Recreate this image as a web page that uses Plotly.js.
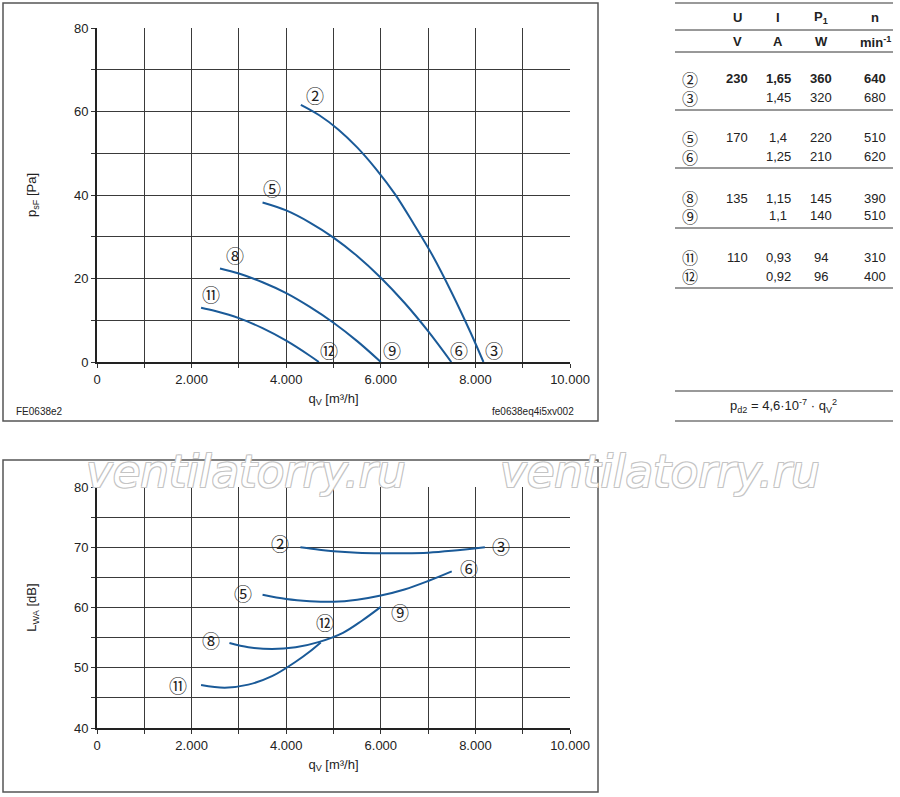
<!DOCTYPE html>
<html><head><meta charset="utf-8">
<script src="https://cdn.plot.ly/plotly-3.0.1.min.js"></script>
<style>html,body{margin:0;padding:0;background:#fff}</style>
</head><body><div id="chart" style="width:900px;height:797px"></div>
<script>
// ---- Pressure curves (top chart) ----
const pq23 = [4310, 4700, 5100, 5500, 5900, 6300, 6700, 7100, 7500, 7900, 8170];
const pp23 = [61.6, 59.1, 55.7, 51.4, 46.2, 40.2, 33.0, 25.4, 16.6, 7.0, 0];
const pq56 = [3500, 4000, 4500, 5000, 5500, 6000, 6500, 7000, 7490];
const pp56 = [38.2, 36.3, 33.4, 29.8, 25.4, 20.2, 14.2, 7.4, 0];
const pq89 = [2600, 3000, 3500, 4000, 4500, 5000, 5500, 6000];
const pp89 = [22.4, 21.2, 19.1, 16.5, 13.2, 9.4, 5.0, 0];
const pq1112 = [2200, 2500, 3000, 3500, 4000, 4500, 4690];
const pp1112 = [13.0, 12.2, 10.5, 8.1, 5.1, 1.5, 0];

// ---- Sound power curves (bottom chart) ----
const lq23 = [4300, 4700, 5000, 5500, 6000, 6500, 7000, 7500, 8200];
const ll23 = [70.0, 69.6, 69.35, 69.1, 69.0, 69.0, 69.1, 69.4, 70.0];
const lq56 = [3500, 4000, 4500, 5000, 5500, 6000, 6500, 7000, 7500];
const ll56 = [62.1, 61.4, 61.05, 60.95, 61.3, 62.0, 63.0, 64.4, 66.0];
const lq89 = [2800, 3200, 3700, 4200, 4700, 5200, 5600, 6000];
const ll89 = [54.1, 53.4, 53.1, 53.4, 54.3, 55.8, 57.8, 60.1];
const lq1112 = [2200, 2700, 3200, 3700, 4200, 4500, 4730];
const ll1112 = [47.15, 46.7, 47.2, 48.6, 51.0, 52.7, 54.2];

// ---- Curve label markers ----
const topLabels = ['②','⑤','⑧','⑪','⑫','⑨','⑥','③'];
const topLabelQ = [4600, 3700, 2910, 2400, 4900, 6230, 7650, 8390];
const topLabelP = [64.0, 41.6, 25.6, 16.4, 2.9, 2.9, 2.9, 2.9];
const botLabels = ['②','③','⑥','⑤','⑨','⑫','⑧','⑪'];
const botLabelQ = [3870, 8550, 7870, 3080, 6410, 4810, 2400, 1720];
const botLabelL = [70.7, 70.15, 66.6, 62.4, 59.2, 57.6, 54.6, 47.1];

// ---- Axis ticks ----
const xTickVals = [0,1000,2000,3000,4000,5000,6000,7000,8000,9000,10000];
const xTickText = ['0','','2.000','','4.000','','6.000','','8.000','','10.000'];
const pTickVals = [0,10,20,30,40,50,60,70,80];
const pTickText = ['0','','20','','40','','60','','80'];
const lTickVals = [40,45,50,55,60,65,70,75,80];
const lTickText = ['40','','50','','60','','70','','80'];

// ---- Table ----
const tHeader = ['U','I','P<sub>1</sub>','n'];
const tUnits = ['V','A','W','min<sup>-1</sup>'];
const tRowIds = ['②','③','⑤','⑥','⑧','⑨','⑪','⑫'];
const tU = ['230','','170','','135','','110',''];
const tI = ['1,65','1,45','1,4','1,25','1,15','1,1','0,93','0,92'];
const tP = ['360','320','220','210','145','140','94','96'];
const tN = ['640','680','510','620','390','510','310','400'];

const W = 900, H = 797;
const px = v => v / W, py = v => 1 - v / H;
const blue = '#1a5a98';
const txt = '#222';
const FONT = 'Liberation Sans, Arial, sans-serif';
const CIRC = 'Noto Sans CJK SC, DejaVu Sans, sans-serif';

const traces = [];
[[pq23,pp23],[pq56,pp56],[pq89,pp89],[pq1112,pp1112]].forEach(([x,y]) => {
  traces.push({x, y, xaxis:'x', yaxis:'y', type:'scatter', mode:'lines',
    line:{color:blue, width:2, shape:'spline', smoothing:1}, hoverinfo:'skip', showlegend:false});
});
[[lq23,ll23],[lq56,ll56],[lq89,ll89],[lq1112,ll1112]].forEach(([x,y]) => {
  traces.push({x, y, xaxis:'x2', yaxis:'y2', type:'scatter', mode:'lines',
    line:{color:blue, width:2, shape:'spline', smoothing:1}, hoverinfo:'skip', showlegend:false});
});

const ann = [];
const P = (x, y, text, font, xa) => ann.push({x:px(x), y:py(y), xref:'paper', yref:'paper', text,
  xanchor: xa || 'center', yanchor:'middle', showarrow:false, font});
topLabels.forEach((t,i) => ann.push({x:topLabelQ[i], y:topLabelP[i], xref:'x', yref:'y', text:t,
  xanchor:'center', yanchor:'middle', showarrow:false, font:{family:CIRC, size:18, color:txt}}));
botLabels.forEach((t,i) => ann.push({x:botLabelQ[i], y:botLabelL[i], xref:'x2', yref:'y2', text:t,
  xanchor:'center', yanchor:'middle', showarrow:false, font:{family:CIRC, size:18, color:txt}}));

// footer codes
P(14, 411, 'FE0638e2', {family:FONT, size:10, color:txt}, 'left');
P(576, 411, 'fe0638eq4i5xv002', {family:FONT, size:10, color:txt}, 'right');

// table
const colX = [737, 778, 821, 875];
tHeader.forEach((t,i) => P(colX[i], 17, '<b>'+t+'</b>', {family:FONT, size:13, color:txt}));
tUnits.forEach((t,i) => P(colX[i], 42, '<b>'+t+'</b>', {family:FONT, size:13, color:txt}));
const rowY = [79, 98, 138, 157, 198, 216, 257, 276];
tRowIds.forEach((id,r) => {
  const b = r === 0;
  const cells = [tU[r], tI[r], tP[r], tN[r]];
  P(690, rowY[r], id, {family:CIRC, size:16, color:txt});
  cells.forEach((c,i) => { if (c) P(colX[i], rowY[r], b ? '<b>'+c+'</b>' : c, {family:FONT, size:13, color:txt}); });
});
P(783, 406, 'p<sub>d2</sub> = 4,6·10<sup>-7</sup> · q<sub>V</sub><sup>2</sup>', {family:FONT, size:13, color:txt});

// watermark
const wm = 'ventilatorry.ru';
[246, 660].forEach(cx => P(cx, 471, wm, {family:'DejaVu Sans, sans-serif', size:45, style:'italic', color:'#ffffff',
  shadow:'-1px -1px 0 #c4c4c4, 1px -1px 0 #c4c4c4, -1px 1px 0 #c4c4c4, 1px 1px 0 #c4c4c4'}));

const shapes = [];
const box = (x0,y0,x1,y1) => shapes.push({type:'rect', xref:'paper', yref:'paper',
  x0:px(x0), x1:px(x1), y0:py(y1), y1:py(y0), line:{color:'#555', width:1.5}, fillcolor:'rgba(0,0,0,0)'});
box(3,3,598,421);
box(3,460,598,792);
const hline = (y, c, w) => shapes.push({type:'line', xref:'paper', yref:'paper', x0:px(675), x1:px(893),
  y0:py(y), y1:py(y), line:{color:c, width:w}});
hline(3,'#999',2); hline(30,'#333',1); hline(52,'#333',1); hline(110,'#333',1);
hline(168,'#999',2); hline(228,'#333',1); hline(288,'#999',2);
hline(391,'#999',2); hline(421,'#999',2);

const axX = (dom, anchor) => ({domain:dom, anchor, range:[0,10000], tickvals:xTickVals, ticktext:xTickText,
  showgrid:true, gridcolor:'#3a3a3a', gridwidth:1, showline:true, linecolor:'#222', linewidth:2,
  ticks:'outside', ticklen:4, tickcolor:'#333', zeroline:false, fixedrange:true,
  tickfont:{family:FONT, size:13, color:txt},
  title:{text:'q<sub>V</sub> [m³/h]', font:{family:FONT, size:13, color:txt}, standoff:8}});
const axY = (dom, anchor, range, tv, tt, title) => ({domain:dom, anchor, range, tickvals:tv, ticktext:tt,
  showgrid:true, gridcolor:'#3a3a3a', gridwidth:1, showline:true, linecolor:'#222', linewidth:2,
  ticks:'outside', ticklen:4, tickcolor:'#333', zeroline:false, fixedrange:true,
  tickfont:{family:FONT, size:13, color:txt},
  title:{text:title, font:{family:FONT, size:13, color:txt}, standoff:34}});

const layout = {
  width:W, height:H, margin:{l:0, r:0, t:0, b:0}, paper_bgcolor:'#fff', plot_bgcolor:'#fff',
  showlegend:false,
  xaxis: axX([px(97), px(570)], 'y'),
  yaxis: axY([py(362), py(28)], 'x', [0,80], pTickVals, pTickText, 'p<sub>sF</sub> [Pa]'),
  xaxis2: axX([px(97), px(570)], 'y2'),
  yaxis2: axY([py(728), py(487)], 'x2', [40,80], lTickVals, lTickText, 'L<sub>WA</sub> [dB]'),
  annotations: ann, shapes
};
Plotly.newPlot('chart', traces, layout, {staticPlot:true, displayModeBar:false});
</script></body></html>
